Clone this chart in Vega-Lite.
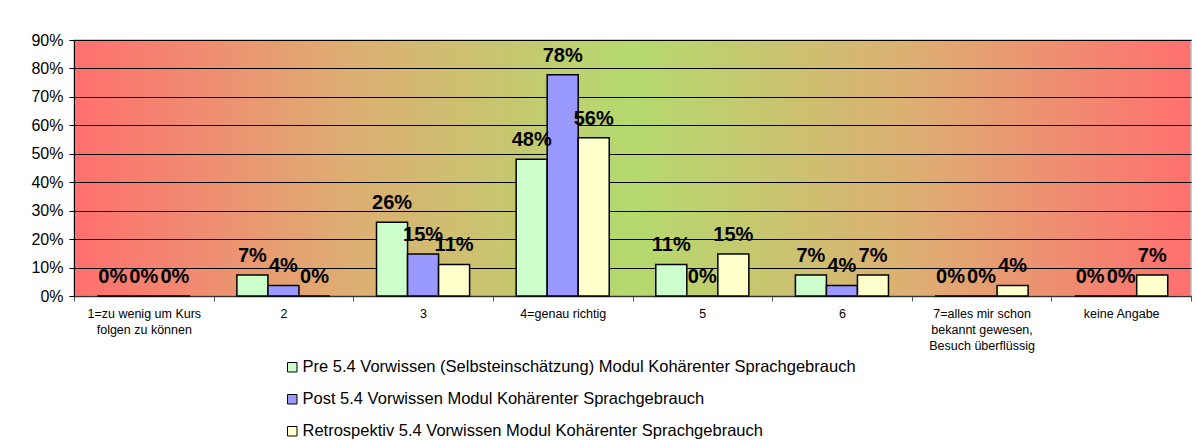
{
  "$schema": "https://vega.github.io/schema/vega-lite/v6.json",
  "autosize": {"type": "none"},
  "width": 1117,
  "height": 256,
  "padding": {"left": 74, "top": 40, "right": 5, "bottom": 144},
  "background": "white",
  "config": {
    "font": "Arial, Liberation Sans, sans-serif",
    "view": {
      "fill": {"gradient": "linear", "x1": 0, "y1": 0, "x2": 1, "y2": 0,
        "stops": [
          {"offset": 0, "color": "#FF6F6F"},
          {"offset": 0.25, "color": "#DDAF72"},
          {"offset": 0.5, "color": "#B4DA6E"},
          {"offset": 0.75, "color": "#DDAF72"},
          {"offset": 1, "color": "#FF6F6F"}
        ]},
      "stroke": "#BDBDBD",
      "strokeWidth": 1.5
    }
  },
  "data": {
    "values": [
      {"cat": "1=zu wenig um Kurs folgen zu können", "series": "Pre 5.4 Vorwissen (Selbsteinschätzung) Modul Kohärenter Sprachgebrauch", "value": 0},
      {"cat": "1=zu wenig um Kurs folgen zu können", "series": "Post 5.4 Vorwissen Modul Kohärenter Sprachgebrauch", "value": 0},
      {"cat": "1=zu wenig um Kurs folgen zu können", "series": "Retrospektiv 5.4 Vorwissen Modul Kohärenter Sprachgebrauch", "value": 0},
      {"cat": "2", "series": "Pre 5.4 Vorwissen (Selbsteinschätzung) Modul Kohärenter Sprachgebrauch", "value": 0.074},
      {"cat": "2", "series": "Post 5.4 Vorwissen Modul Kohärenter Sprachgebrauch", "value": 0.037},
      {"cat": "2", "series": "Retrospektiv 5.4 Vorwissen Modul Kohärenter Sprachgebrauch", "value": 0},
      {"cat": "3", "series": "Pre 5.4 Vorwissen (Selbsteinschätzung) Modul Kohärenter Sprachgebrauch", "value": 0.259},
      {"cat": "3", "series": "Post 5.4 Vorwissen Modul Kohärenter Sprachgebrauch", "value": 0.148},
      {"cat": "3", "series": "Retrospektiv 5.4 Vorwissen Modul Kohärenter Sprachgebrauch", "value": 0.111},
      {"cat": "4=genau richtig", "series": "Pre 5.4 Vorwissen (Selbsteinschätzung) Modul Kohärenter Sprachgebrauch", "value": 0.481},
      {"cat": "4=genau richtig", "series": "Post 5.4 Vorwissen Modul Kohärenter Sprachgebrauch", "value": 0.778},
      {"cat": "4=genau richtig", "series": "Retrospektiv 5.4 Vorwissen Modul Kohärenter Sprachgebrauch", "value": 0.556},
      {"cat": "5", "series": "Pre 5.4 Vorwissen (Selbsteinschätzung) Modul Kohärenter Sprachgebrauch", "value": 0.111},
      {"cat": "5", "series": "Post 5.4 Vorwissen Modul Kohärenter Sprachgebrauch", "value": 0},
      {"cat": "5", "series": "Retrospektiv 5.4 Vorwissen Modul Kohärenter Sprachgebrauch", "value": 0.148},
      {"cat": "6", "series": "Pre 5.4 Vorwissen (Selbsteinschätzung) Modul Kohärenter Sprachgebrauch", "value": 0.074},
      {"cat": "6", "series": "Post 5.4 Vorwissen Modul Kohärenter Sprachgebrauch", "value": 0.037},
      {"cat": "6", "series": "Retrospektiv 5.4 Vorwissen Modul Kohärenter Sprachgebrauch", "value": 0.074},
      {"cat": "7=alles mir schon bekannt gewesen, Besuch überflüssig", "series": "Pre 5.4 Vorwissen (Selbsteinschätzung) Modul Kohärenter Sprachgebrauch", "value": 0},
      {"cat": "7=alles mir schon bekannt gewesen, Besuch überflüssig", "series": "Post 5.4 Vorwissen Modul Kohärenter Sprachgebrauch", "value": 0},
      {"cat": "7=alles mir schon bekannt gewesen, Besuch überflüssig", "series": "Retrospektiv 5.4 Vorwissen Modul Kohärenter Sprachgebrauch", "value": 0.037},
      {"cat": "keine Angabe", "series": "Pre 5.4 Vorwissen (Selbsteinschätzung) Modul Kohärenter Sprachgebrauch", "value": 0},
      {"cat": "keine Angabe", "series": "Post 5.4 Vorwissen Modul Kohärenter Sprachgebrauch", "value": 0},
      {"cat": "keine Angabe", "series": "Retrospektiv 5.4 Vorwissen Modul Kohärenter Sprachgebrauch", "value": 0.074}
    ]
  },
  "encoding": {
    "x": {
      "field": "cat", "type": "nominal", "sort": null, "title": null,
      "scale": {"paddingInner": 0, "paddingOuter": 0},
      "axis": {
        "labelAngle": 0, "labelFontSize": 12.5, "labelColor": "black",
        "labelLineHeight": 16, "labelPadding": 6, "labelBaseline": "top",
        "tickBand": "extent", "tickSize": 5, "tickColor": "#555555",
        "domainColor": "#333333", "domainWidth": 1.5,
        "labelExpr": "datum.value == '1=zu wenig um Kurs folgen zu können' ? ['1=zu wenig um Kurs', 'folgen zu können'] : datum.value == '7=alles mir schon bekannt gewesen, Besuch überflüssig' ? ['7=alles mir schon', 'bekannt gewesen,', 'Besuch überflüssig'] : datum.value"
      }
    },
    "xOffset": {
      "field": "series", "type": "nominal", "sort": null,
      "scale": {"paddingInner": 0, "paddingOuter": 0.75}
    },
    "y": {
      "field": "value", "type": "quantitative", "title": null,
      "scale": {"domain": [0, 0.9], "nice": false},
      "axis": {
        "values": [0, 0.1, 0.2, 0.3, 0.4, 0.5, 0.6, 0.7, 0.8, 0.9],
        "format": ".0%", "labelFontSize": 16, "labelColor": "black",
        "labelPadding": 6, "tickSize": 5, "tickColor": "black",
        "domainColor": "black", "gridColor": "black", "gridOpacity": 1, "gridWidth": 1
      }
    }
  },
  "layer": [
    {
      "mark": {"type": "bar", "stroke": "black", "strokeWidth": 1.5, "cornerRadius": 0},
      "encoding": {
        "color": {
          "field": "series", "type": "nominal", "sort": null,
          "scale": {"range": ["#CCFFCC", "#9999FF", "#FFFFCC"]},
          "legend": {
            "title": null, "orient": "none", "legendX": 210, "legendY": 319,
            "direction": "vertical", "symbolType": "square", "symbolSize": 90,
            "symbolStrokeColor": "black", "symbolStrokeWidth": 1, "symbolOpacity": 1,
            "labelFontSize": 16.5, "labelColor": "black", "labelLimit": 900,
            "labelOffset": 2, "rowPadding": 15
          }
        }
      }
    },
    {
      "mark": {"type": "text", "fontSize": 20, "fontWeight": "bold", "color": "black", "baseline": "middle", "dy": -19},
      "encoding": {
        "text": {"field": "value", "type": "quantitative", "format": ".0%"}
      }
    }
  ]
}
